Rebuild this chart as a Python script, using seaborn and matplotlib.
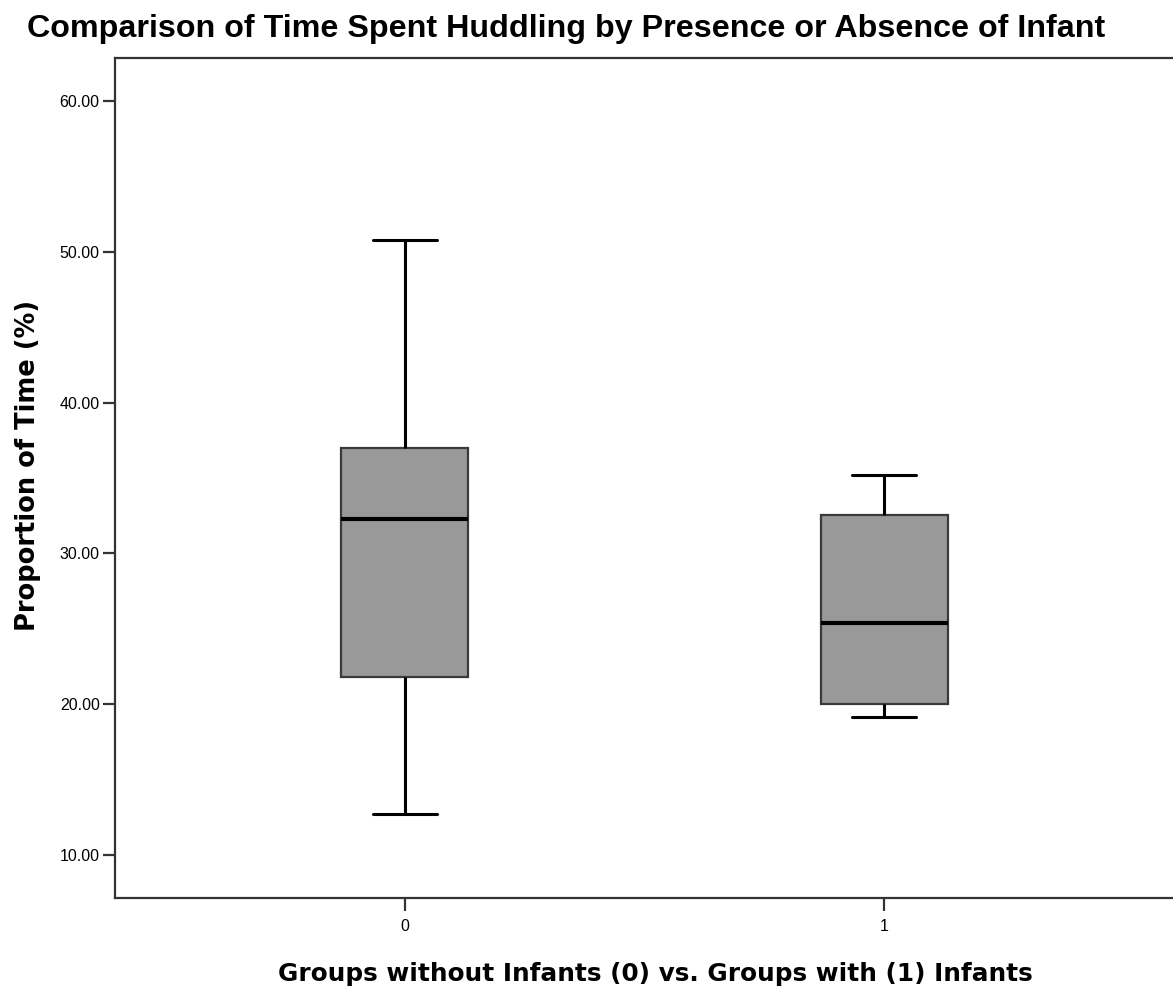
import seaborn as sns
import pandas as pd
import matplotlib.pyplot as plt

# values (min, Q1, median, Q3, max per group)
groups = ["0", "1"]
no_infant = [12.7, 21.8, 32.3, 37.0, 50.8]
with_infant = [19.15, 20.0, 25.4, 32.55, 35.2]
yticks = [10, 20, 30, 40, 50, 60]

df = pd.DataFrame({
    "group": [groups[0]] * len(no_infant) + [groups[1]] * len(with_infant),
    "time": no_infant + with_infant,
})

sns.set_style("white")
plt.rcParams['font.family'] = ['Liberation Sans', 'DejaVu Sans']
plt.rcParams['text.color'] = 'black'
plt.rcParams['axes.labelcolor'] = 'black'
plt.rcParams['xtick.color'] = 'black'
plt.rcParams['ytick.color'] = 'black'

fig = plt.figure(figsize=(11.73, 9.88), dpi=100)
ax = fig.add_axes([0.098, 0.0911, 0.902, 0.8502])

sns.boxplot(data=df, x="group", y="time", order=groups, ax=ax,
            width=0.265, color="#999999", saturation=1,
            whis=1.5, showfliers=False,
            boxprops=dict(edgecolor="#3a3a3a", linewidth=1.6),
            medianprops=dict(color="black", linewidth=3.0),
            whiskerprops=dict(color="black", linewidth=2.2),
            capprops=dict(color="black", linewidth=2.2))

ax.set_xlim(-0.605, 1.603)
ax.set_ylim(7.15, 62.85)
ax.set_yticks(yticks)
ax.set_yticklabels([f"{v:.2f}" for v in yticks])

for side in ["left", "bottom", "top"]:
    ax.spines[side].set_color("#333333")
    ax.spines[side].set_linewidth(1.6)
ax.spines["right"].set_visible(False)

ax.tick_params(axis="y", which="both", left=True, length=9, width=1.6,
               color="#333333", labelsize=11.5, pad=2)
ax.tick_params(axis="x", which="both", bottom=True, length=9, width=1.6,
               color="#333333", labelsize=11.5, pad=6)

ax.set_ylabel("Proportion of Time (%)", fontsize=18.5, fontweight="bold",
              family=["DejaVu Sans"], va="center", ha="center")
ax.yaxis.set_label_coords(0.024, 0.529, transform=fig.transFigure)
ax.set_xlabel("Groups without Infants (0) vs. Groups with (1) Infants",
              fontsize=17.8, fontweight="bold", family=["DejaVu Sans"],
              va="baseline", ha="center")
ax.xaxis.set_label_coords(0.559, 0.007, transform=fig.transFigure)
fig.text(0.483, 0.9626, "Comparison of Time Spent Huddling by Presence or Absence of Infant",
         ha="center", va="baseline", fontsize=23.2, fontweight="bold")

fig.savefig("out.png", dpi=100)
